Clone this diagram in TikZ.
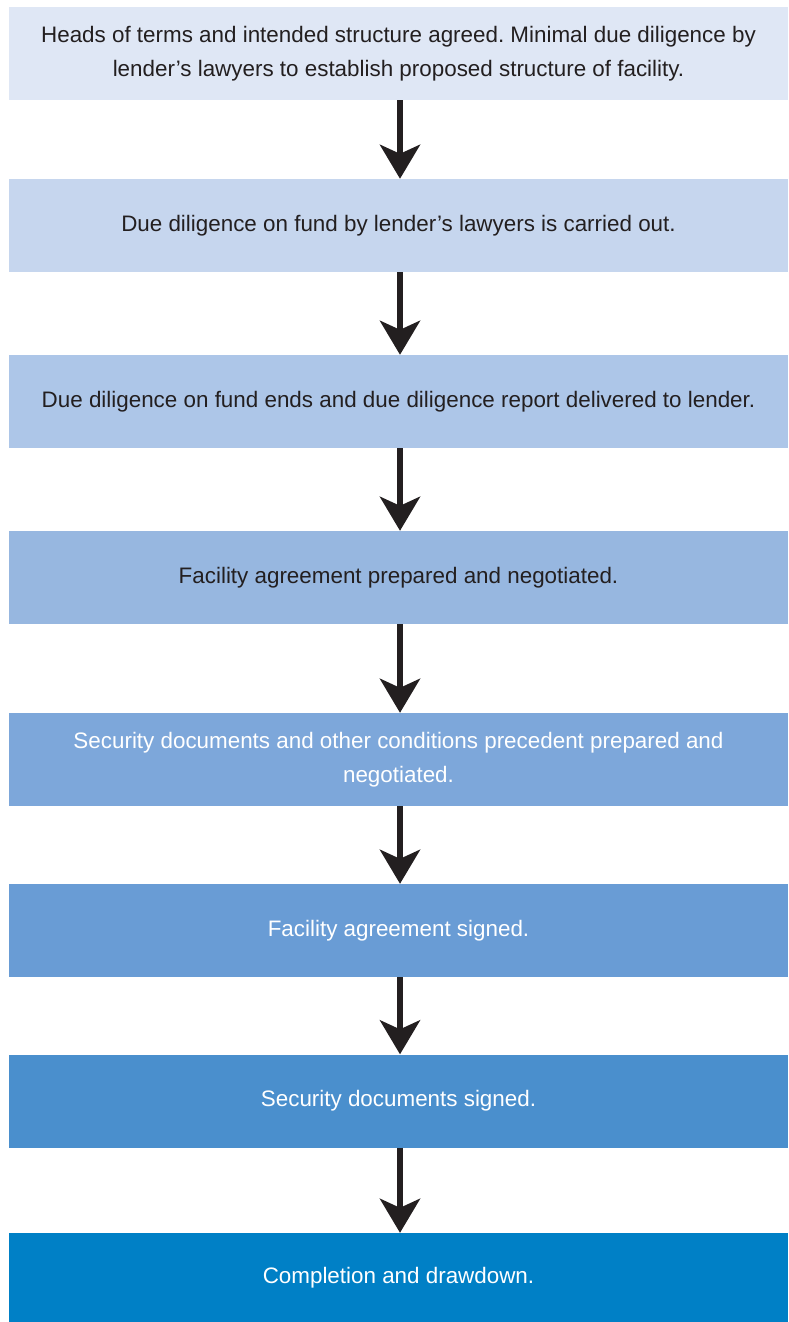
\documentclass[tikz,border=0pt]{standalone}
\usepackage{fontspec}
\setmainfont{Liberation Sans}
\frenchspacing
\usetikzlibrary{arrows.meta}
\definecolor{stepa}{HTML}{DFE7F5}
\definecolor{stepb}{HTML}{C6D6EE}
\definecolor{stepc}{HTML}{ADC6E8}
\definecolor{stepd}{HTML}{97B7E0}
\definecolor{stepe}{HTML}{7DA7DA}
\definecolor{stepf}{HTML}{699CD5}
\definecolor{stepg}{HTML}{4A8FCD}
\definecolor{steph}{HTML}{0080C6}
\definecolor{darktext}{HTML}{231F20}
\begin{document}
\begin{tikzpicture}[x=1pt, y=-1pt,
        stepbox/.style={minimum width=779pt, minimum height=93pt, inner sep=0pt,
            align=center, font=\fontsize{22.4}{34}\selectfont, text=darktext},
        lightbox/.style={stepbox, text=white},
        flow/.style={draw=darktext, line width=6pt, -{Stealth[length=34pt, width=40pt, inset=9pt]}}]
    \useasboundingbox (0, 0) rectangle (788, 1322);

    \node[stepbox, fill=stepa] (heads) at (398.5, 53.5) {Heads of terms and intended structure agreed. Minimal due diligence by\\lender’s lawyers to establish proposed structure of facility.};
    \node[stepbox, fill=stepb] (dd_start) at (398.5, 225.5) {Due diligence on fund by lender’s lawyers is carried out.};
    \node[stepbox, fill=stepc] (dd_end) at (398.5, 401.5) {Due diligence on fund ends and due diligence report delivered to lender.};
    \node[stepbox, fill=stepd] (fa_prep) at (398.5, 577.5) {Facility agreement prepared and negotiated.};
    \node[lightbox, fill=stepe] (sec_prep) at (398.5, 759.5) {Security documents and other conditions precedent prepared and\\negotiated.};
    \node[lightbox, fill=stepf] (fa_sign) at (398.5, 930.5) {Facility agreement signed.};
    \node[lightbox, fill=stepg] (sec_sign) at (398.5, 1101) {Security documents signed.};
    \node[lightbox, fill=steph, minimum height=89pt] (done) at (398.5, 1277.5) {Completion and drawdown.};

    \draw[flow] (heads.south -| 400, 0) -- (dd_start.north -| 400, 0);
    \draw[flow] (dd_start.south -| 400, 0) -- (dd_end.north -| 400, 0);
    \draw[flow] (dd_end.south -| 400, 0) -- (fa_prep.north -| 400, 0);
    \draw[flow] (fa_prep.south -| 400, 0) -- (sec_prep.north -| 400, 0);
    \draw[flow] (sec_prep.south -| 400, 0) -- (fa_sign.north -| 400, 0);
    \draw[flow] (fa_sign.south -| 400, 0) -- (sec_sign.north -| 400, 0);
    \draw[flow] (sec_sign.south -| 400, 0) -- (done.north -| 400, 0);
\end{tikzpicture}
\end{document}
